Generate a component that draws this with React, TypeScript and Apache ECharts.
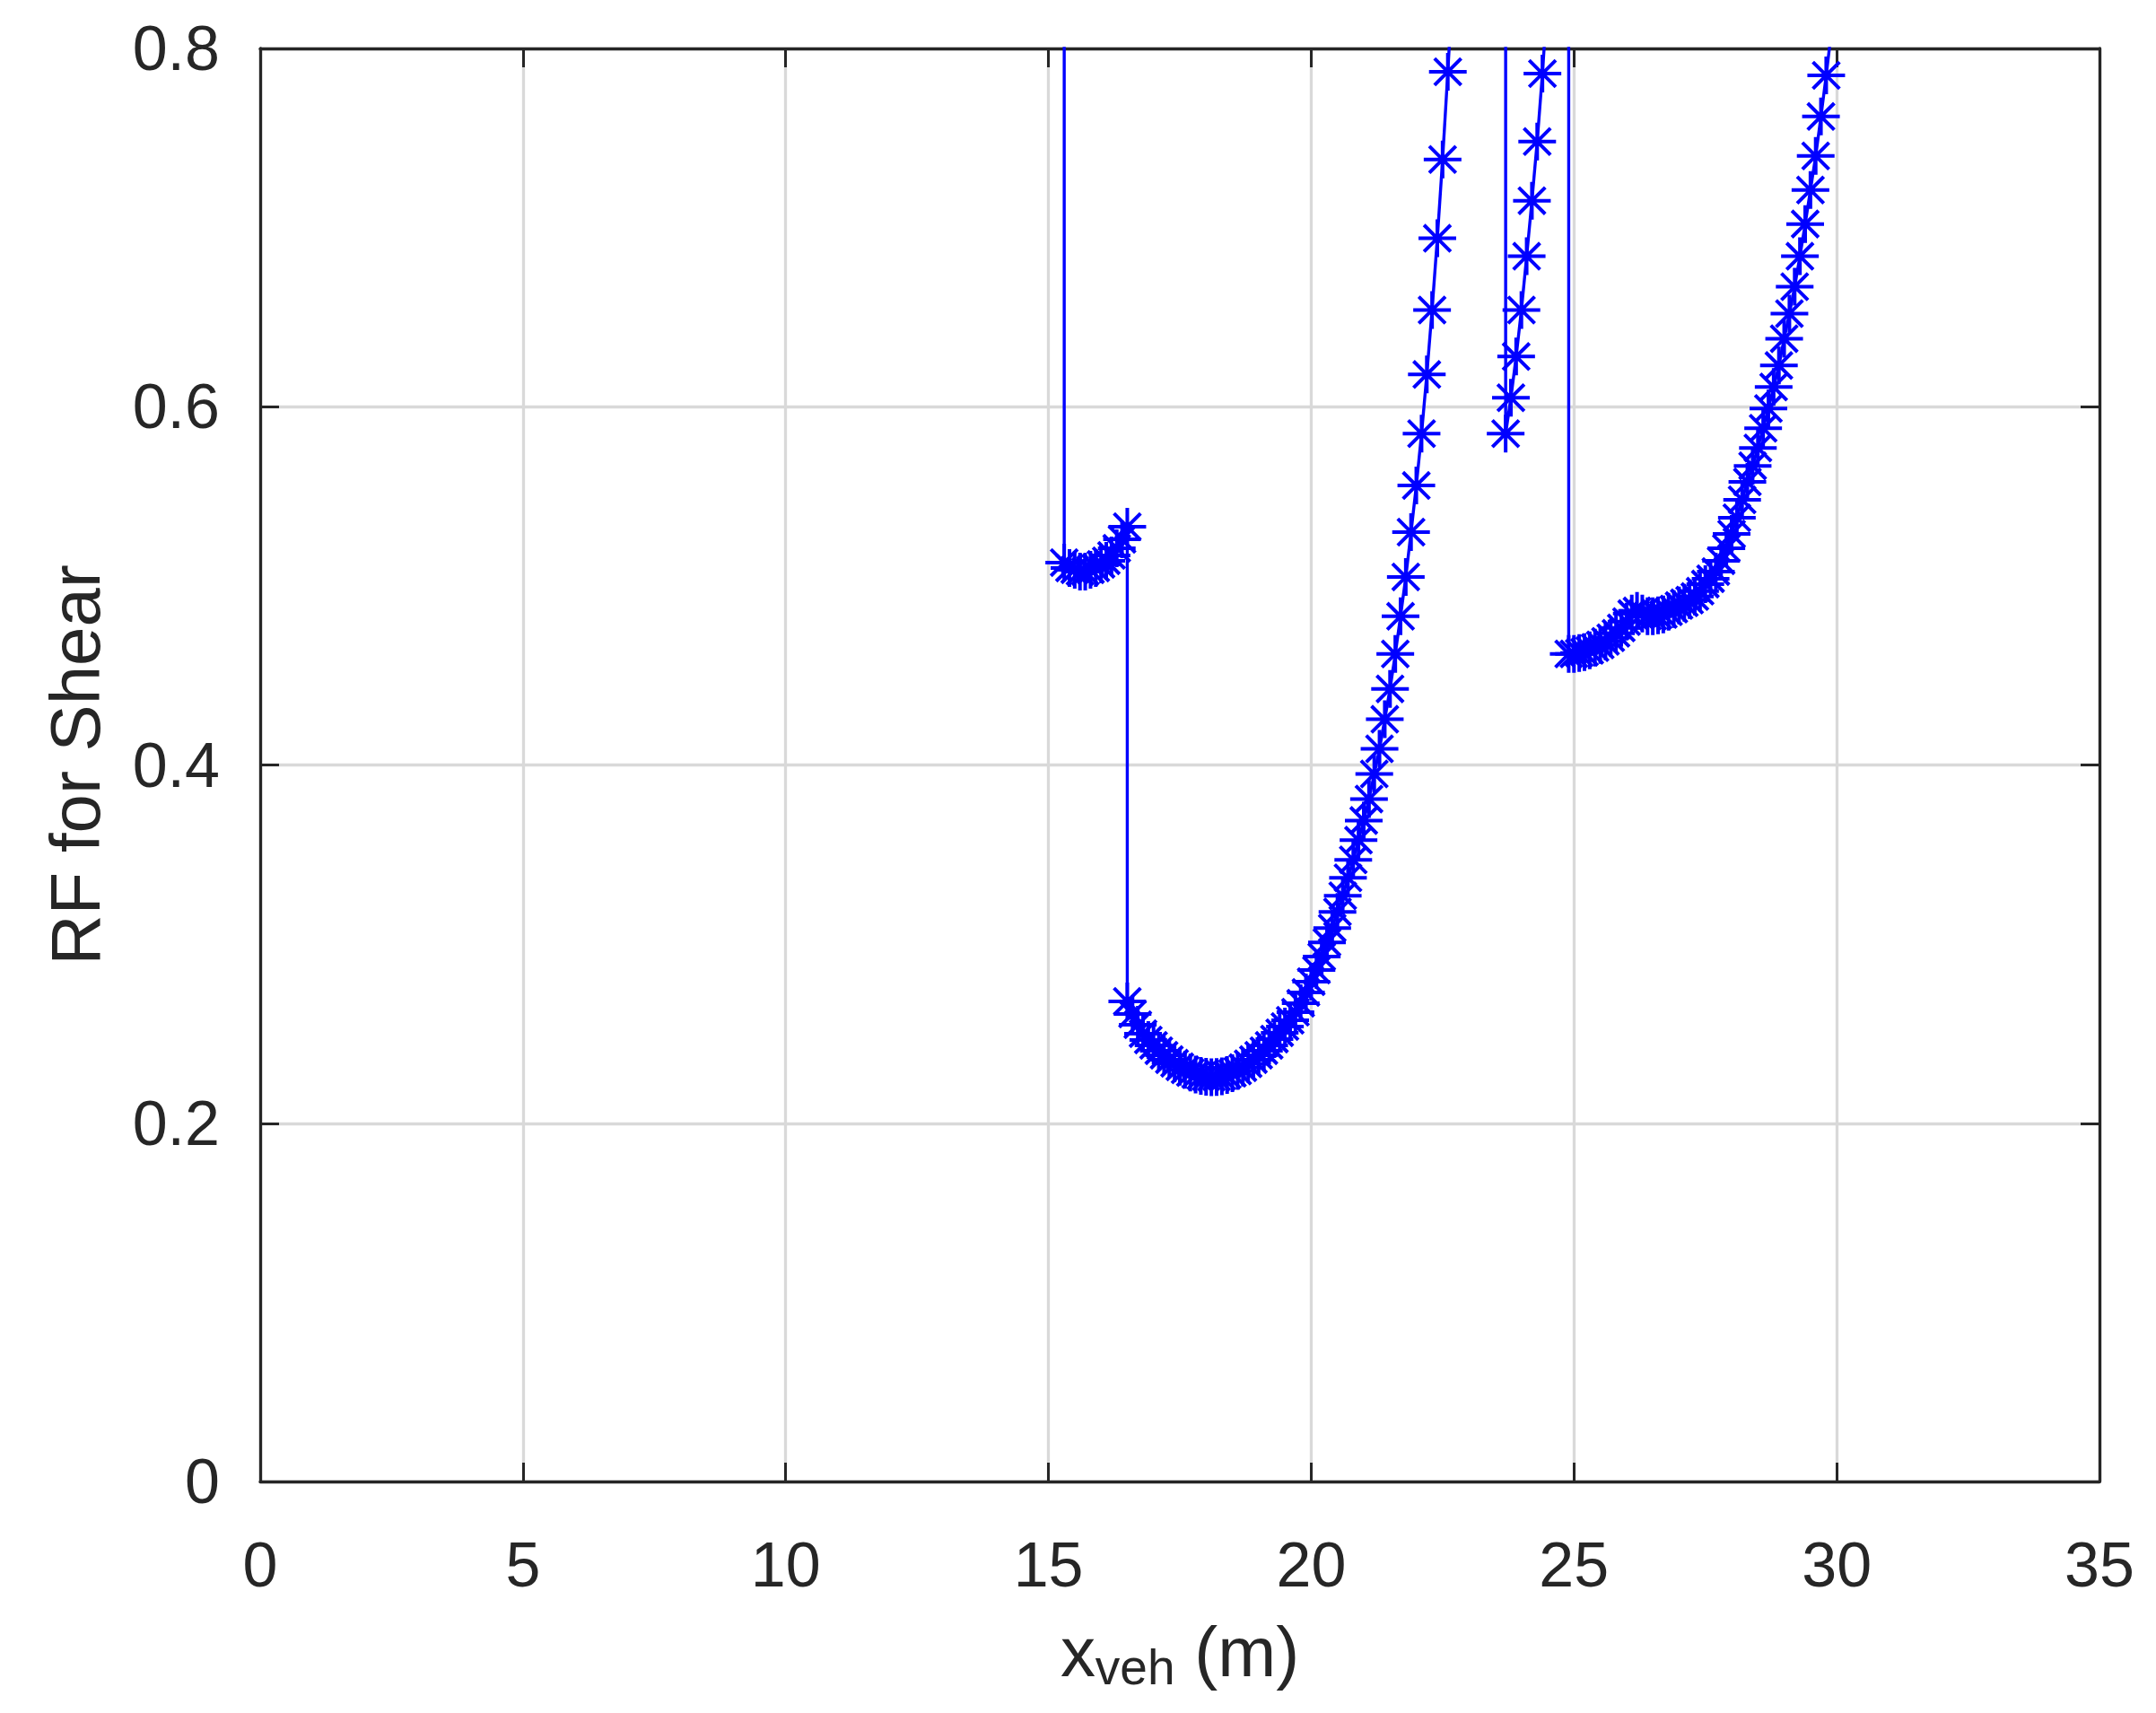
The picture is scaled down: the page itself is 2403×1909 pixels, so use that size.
// RF for shear vs vehicle position, MATLAB-style line with asterisk markers

import { useEffect, useRef } from 'react';
import * as echarts from 'echarts';

type Pt = [number, number];

const X_TICKS = { min: 0, max: 35, interval: 5 };
const Y_TICKS = { min: 0, max: 0.8, interval: 0.2 };

// values above 0.8 leave the axes and are clipped, as in the original figure
const spanLeft: Pt[] = [
    [15.3, 3.0], [15.3, 0.513], [15.4, 0.510], [15.5, 0.509], [15.6, 0.508], [15.7, 0.508],
    [15.8, 0.509], [15.9, 0.510], [16.0, 0.512], [16.1, 0.514], [16.2, 0.517], [16.3, 0.521],
    [16.4, 0.526], [16.5, 0.533],
];

const spanMain: Pt[] = [
    [16.5, 0.268], [16.6, 0.261], [16.7, 0.255], [16.8, 0.250], [16.9, 0.2465], [17.0, 0.2435],
    [17.1, 0.2405], [17.2, 0.238], [17.3, 0.2355], [17.4, 0.2335], [17.5, 0.2315], [17.6, 0.2298],
    [17.7, 0.2283], [17.8, 0.2272], [17.9, 0.2264], [18.0, 0.2259], [18.1, 0.2257], [18.2, 0.2258],
    [18.3, 0.2262], [18.4, 0.2269], [18.5, 0.2279], [18.6, 0.2292], [18.7, 0.231], [18.8, 0.2332],
    [18.9, 0.2355], [19.0, 0.238], [19.1, 0.2405], [19.2, 0.2435], [19.3, 0.247], [19.4, 0.2505],
    [19.5, 0.254], [19.6, 0.2575], [19.7, 0.262], [19.8, 0.267], [19.9, 0.273], [20.0, 0.279],
    [20.1, 0.2855], [20.2, 0.293], [20.3, 0.301], [20.4, 0.309], [20.5, 0.318], [20.6, 0.327],
    [20.7, 0.337], [20.8, 0.347], [20.9, 0.358], [21.0, 0.369], [21.1, 0.381], [21.2, 0.395],
    [21.3, 0.409], [21.4, 0.4255], [21.5, 0.4425], [21.6, 0.462], [21.7, 0.483], [21.8, 0.505],
    [21.9, 0.530], [22.0, 0.556], [22.1, 0.585], [22.2, 0.618], [22.3, 0.654], [22.4, 0.694],
    [22.5, 0.738], [22.6, 0.787], [22.7, 0.84],
];

const spanShort: Pt[] = [
    [23.7, 3.0], [23.7, 0.585], [23.8, 0.605], [23.9, 0.628], [24.0, 0.654], [24.1, 0.684],
    [24.2, 0.715], [24.3, 0.748], [24.4, 0.786], [24.5, 0.83],
];

const spanRight: Pt[] = [
    [24.9, 3.0], [24.9, 0.462], [25.0, 0.462], [25.1, 0.4625], [25.2, 0.463], [25.3, 0.464],
    [25.4, 0.4655], [25.5, 0.467], [25.6, 0.469], [25.7, 0.471], [25.8, 0.4735], [25.9, 0.4765],
    [26.0, 0.480], [26.1, 0.4845], [26.2, 0.486], [26.3, 0.4845], [26.4, 0.483], [26.5, 0.483],
    [26.6, 0.4835], [26.7, 0.484], [26.8, 0.4855], [26.9, 0.487], [27.0, 0.489], [27.1, 0.4905],
    [27.2, 0.492], [27.3, 0.494], [27.4, 0.497], [27.5, 0.501], [27.6, 0.504], [27.7, 0.508],
    [27.8, 0.514], [27.9, 0.521], [28.0, 0.529], [28.1, 0.538], [28.2, 0.548], [28.3, 0.558],
    [28.4, 0.567], [28.5, 0.577], [28.6, 0.588], [28.7, 0.599], [28.8, 0.611], [28.9, 0.623],
    [29.0, 0.638], [29.1, 0.652], [29.2, 0.667], [29.3, 0.684], [29.4, 0.702], [29.5, 0.721],
    [29.6, 0.740], [29.7, 0.762], [29.8, 0.785], [29.9, 0.81],
];

const FONT = 'Liberation Sans';
const INK = '#262626';
const GRID = '#d9d9d9';
const BLUE = '#0000ff';

// MATLAB '*' marker: plus + cross
const ASTERISK = 'path://M0,-10L0,10M-10,0L10,0M-7.07,-7.07L7.07,7.07M-7.07,7.07L7.07,-7.07';

export default function App() {
    const chartRef = useRef<HTMLDivElement>(null);

    useEffect(() => {
        if (!chartRef.current) return;
        const chart = echarts.init(chartRef.current, null, { renderer: 'svg' });

        const axisLine = { show: true, onZero: false, lineStyle: { color: INK, width: 3.3 } };
        const axisTick = { show: true, inside: true, length: 21, lineStyle: { color: INK, width: 3 } };
        const labelStyle = { fontFamily: FONT, fontSize: 70, color: INK };

        const option: echarts.EChartsOption = {
            animation: false,
            backgroundColor: '#ffffff',
            grid: { left: 290, right: 63, top: 54, bottom: 258, containLabel: false },
            xAxis: [
                {
                    type: 'value',
                    ...X_TICKS,
                    axisLine,
                    axisTick,
                    axisLabel: { ...labelStyle, margin: 58 },
                    splitLine: { show: true, lineStyle: { color: GRID, width: 3.3 } },
                    name: 'x{sub|veh} (m)',
                    nameLocation: 'middle',
                    nameGap: 150,
                    nameTextStyle: {
                        fontFamily: FONT,
                        fontSize: 78,
                        color: INK,
                        lineHeight: 80,
                        verticalAlign: 'top',
                        rich: {
                            sub: {
                                fontFamily: FONT,
                                fontSize: 55,
                                color: INK,
                                lineHeight: 80,
                                padding: [34, 0, 0, 0],
                            },
                        },
                    },
                },
                {
                    type: 'value',
                    position: 'top',
                    ...X_TICKS,
                    axisLine,
                    axisTick,
                    axisLabel: { show: false },
                    splitLine: { show: false },
                },
            ],
            yAxis: [
                {
                    type: 'value',
                    ...Y_TICKS,
                    axisLine,
                    axisTick,
                    axisLabel: { ...labelStyle, margin: 45 },
                    splitLine: { show: true, lineStyle: { color: GRID, width: 3.3 } },
                    name: 'RF for Shear',
                    nameLocation: 'middle',
                    nameGap: 167,
                    nameRotate: 90,
                    nameTextStyle: { fontFamily: FONT, fontSize: 78, color: INK },
                },
                {
                    type: 'value',
                    position: 'right',
                    ...Y_TICKS,
                    axisLine,
                    axisTick,
                    axisLabel: { show: false },
                    splitLine: { show: false },
                },
            ],
            series: [
                {
                    type: 'line',
                    xAxisIndex: 0,
                    yAxisIndex: 0,
                    data: [...spanLeft, ...spanMain, ...spanShort, ...spanRight],
                    clip: true,
                    showAllSymbol: true,
                    symbol: ASTERISK,
                    symbolSize: 42,
                    lineStyle: { color: BLUE, width: 3.4 },
                    itemStyle: { color: 'none', borderColor: BLUE, borderWidth: 4 },
                    emphasis: { disabled: true },
                },
            ],
        };

        chart.setOption(option);

        return () => {
            chart.dispose();
        };
    }, []);

    return (
        <div
            ref={chartRef}
            style={{ position: 'fixed', left: 0, top: 0, width: '2403px', height: '1909px' }}
        />
    );
}
